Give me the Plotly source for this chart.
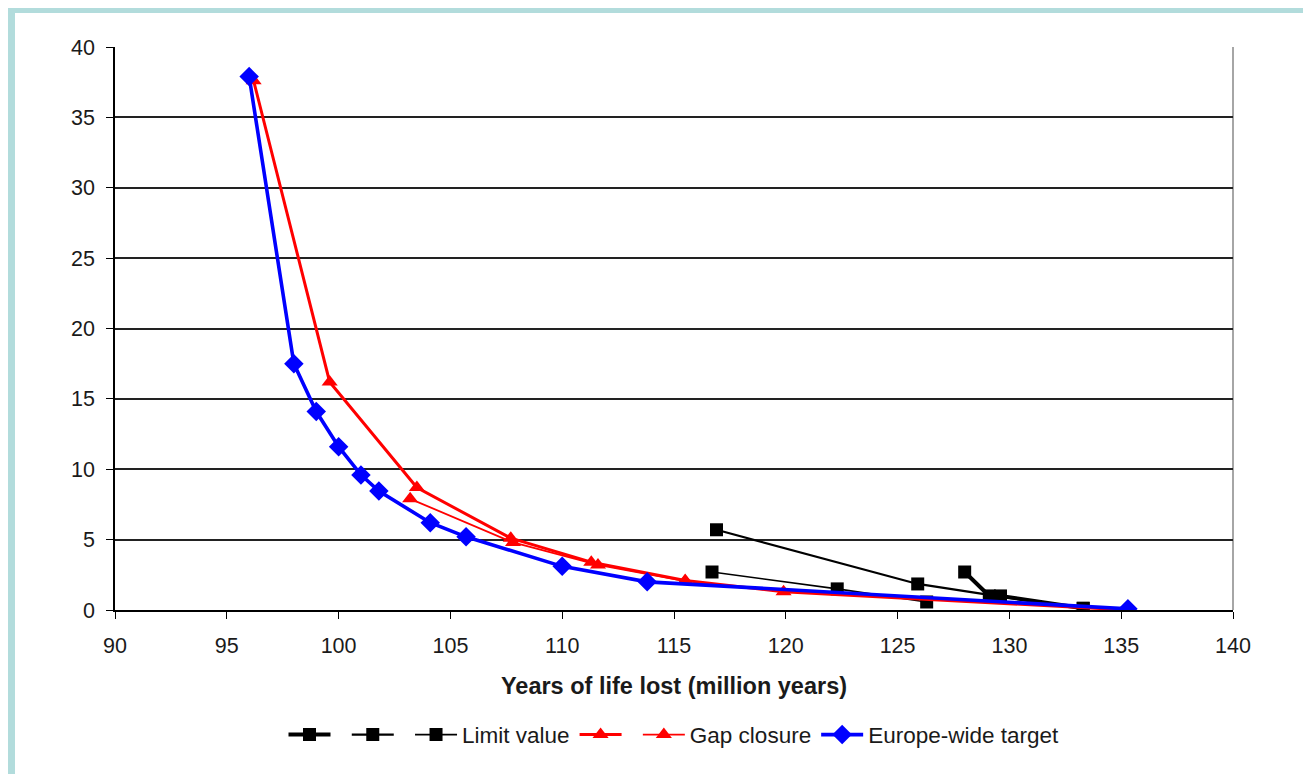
import plotly.graph_objects as go

# Limit value (three series)
limit1_x = [128.0, 129.1, 129.6, 133.3]
limit1_y = [2.7, 1.0, 1.0, 0.12]
limit2_x = [116.9, 125.9, 129.6, 133.3]
limit2_y = [5.7, 1.85, 0.95, 0.12]
limit3_x = [116.7, 122.3, 126.3]
limit3_y = [2.7, 1.5, 0.57]

# Gap closure (two series)
gap1_x = [96.2, 99.6, 103.5, 107.7, 111.3, 115.5, 119.9, 135.3]
gap1_y = [37.6, 16.2, 8.7, 5.1, 3.4, 2.1, 1.3, 0.0]
gap2_x = [103.2, 107.8, 111.6, 115.5]
gap2_y = [7.9, 4.8, 3.2, 2.05]

# Europe-wide target
eu_x = [96.0, 98.0, 99.0, 100.0, 101.0, 101.8, 104.1, 105.7, 110.0, 113.8, 135.3]
eu_y = [37.9, 17.5, 14.1, 11.6, 9.6, 8.45, 6.2, 5.2, 3.1, 2.0, 0.08]

x_ticks = [90, 95, 100, 105, 110, 115, 120, 125, 130, 135, 140]
y_ticks = [0, 5, 10, 15, 20, 25, 30, 35, 40]

fig = go.Figure()

def add(x, y, name, color, width, symbol, size):
    fig.add_trace(go.Scatter(
        x=x, y=y, mode="lines+markers", name=name,
        line=dict(color=color, width=width),
        marker=dict(symbol=symbol, size=size, color=color),
    ))

add(limit1_x, limit1_y, " ", "black", 4, "square", 13)
add(limit2_x, limit2_y, " ", "black", 2.2, "square", 13)
add(limit3_x, limit3_y, "Limit value", "black", 1.6, "square", 13)
add(gap1_x, gap1_y, " ", "red", 3, "triangle-up", 14)
add(gap2_x, gap2_y, "Gap closure", "red", 1.8, "triangle-up", 14)
add(eu_x, eu_y, "Europe-wide target", "blue", 3.6, "diamond", 15)

# the page adds an 8px body margin; figure is sized to fill the rest
W, H = 1303, 766
L, T = 107, 39
PW, PH = 1118, 563
R, B = W - L - PW, H - T - PH

def px(xp):
    return (xp - L) / PW

def py(yp):
    return (H - B - yp) / PH

shapes = [
    dict(type="rect", xref="paper", yref="paper", x0=px(0), x1=px(W), y0=py(0), y1=py(5),
         fillcolor="#b2dcdc", line=dict(width=0), layer="below"),
    dict(type="rect", xref="paper", yref="paper", x0=px(0), x1=px(7), y0=py(0), y1=py(H),
         fillcolor="#b2dcdc", line=dict(width=0), layer="below"),
    dict(type="line", xref="paper", yref="paper", x0=1, x1=1, y0=0, y1=1,
         line=dict(color="#888888", width=1.5), layer="below"),
]

txt = "#1a1a1a"
fig.update_layout(
    width=W, height=H,
    margin=dict(l=L, r=R, t=T, b=B),
    paper_bgcolor="white", plot_bgcolor="white",
    font=dict(family="Liberation Sans, Arial, sans-serif", size=22, color=txt),
    shapes=shapes,
    legend=dict(orientation="h", x=0.5, xanchor="center", y=-0.222, yanchor="middle",
                font=dict(size=22.5, color=txt), itemwidth=42),
    xaxis=dict(range=[90, 140], tickvals=x_ticks, showgrid=False, zeroline=False,
               showline=True, linecolor="black", linewidth=1.5,
               ticks="outside", ticklen=7, tickcolor="black", ticklabelstandoff=8,
               tickfont=dict(size=21.5, color=txt),
               title=dict(text="<b>Years of life lost (million years)</b>",
                          font=dict(size=23.5, color=txt), standoff=21)),
    yaxis=dict(range=[0, 40], tickvals=y_ticks, showgrid=True, gridcolor="#222222", gridwidth=1.5,
               zeroline=False, showline=True, linecolor="black", linewidth=1.5,
               ticks="outside", ticklen=7, tickcolor="black", ticklabelstandoff=7,
               tickfont=dict(size=21.5, color=txt)),
)

fig.write_html("out.html")
